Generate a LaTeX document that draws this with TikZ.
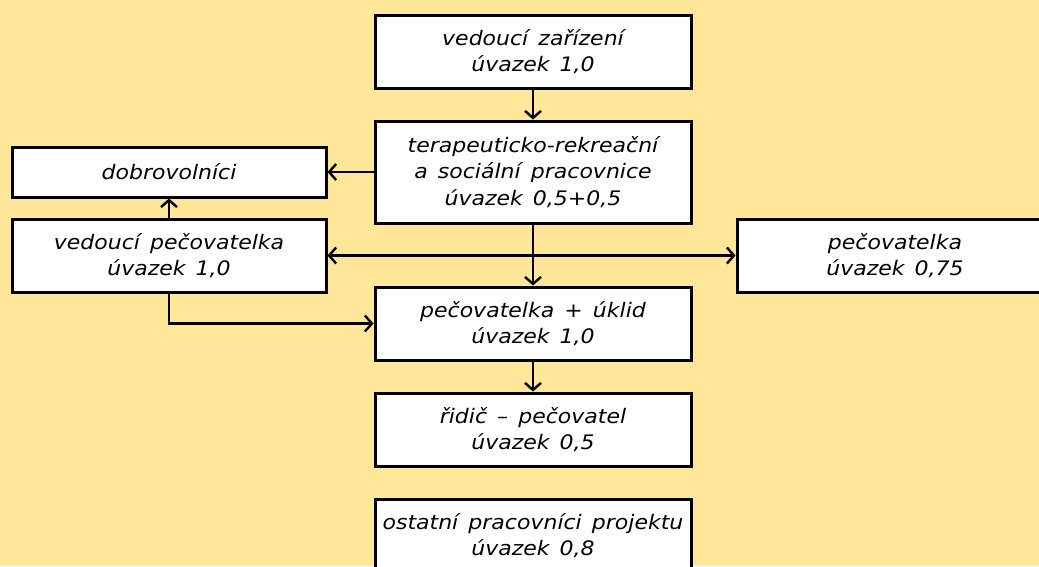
\documentclass[tikz,border=0pt]{standalone}
\usepackage{fontspec}
\setmainfont[WordSpace={1.45,1,1},FakeStretch=1.1]{DejaVu Sans}
\usetikzlibrary{arrows.meta}
\definecolor{bg}{HTML}{FFE699}
\begin{document}
\begin{tikzpicture}[x=1pt,y=-1pt,
  box/.style={draw=black, line width=3pt, fill=white, minimum width=316pt, minimum height=73pt, inner sep=0pt, align=center, font=\fontsize{20}{26.5}\selectfont\itshape},
  tip/.tip={Straight Barb[length=7pt,width=16pt,line width=2.4pt]},
  conn/.style={line width=2.4pt, -tip},
  dconn/.style={line width=2.4pt, tip-tip}]
\useasboundingbox (0,0) rectangle (1039,566);
\fill[bg] (0,0) rectangle (1039,566);
\begin{scope}
\clip (0,0) rectangle (1039,566);
\node[box] (vz) at (533,51.5) {vedoucí zařízení\\úvazek 1,0};
\node[box, minimum height=102pt] (ter) at (533,172) {terapeuticko-rekreační\\a sociální pracovnice\\úvazek 0,5+0,5};
\node[box, minimum height=50pt, minimum width=314pt] (dob) at (169,172) {dobrovolníci};
\node[box, minimum width=314pt] (vp) at (169,255.5) {vedoucí pečovatelka\\úvazek 1,0};
\node[box] (p75) at (895,255.5) {pečovatelka\\úvazek 0,75};
\node[box] (pu) at (533,323.5) {pečovatelka + úklid\\úvazek 1,0};
\node[box] (rid) at (533,429.5) {řidič – pečovatel\\úvazek 0,5};
\node[box] (ost) at (533,535.5) {ostatní pracovníci projektu\\úvazek 0,8};
\end{scope}
\draw[conn] (vz) -- (ter);
\draw[conn] (ter.west) -- (dob.east);
\draw[conn] (vp) -- (dob);
\draw[dconn] (vp.east) -- (p75.west);
\draw[conn] (ter) -- (pu);
\draw[conn] (vp.south) |- (pu.west);
\draw[conn] (pu) -- (rid);
\end{tikzpicture}
\end{document}
